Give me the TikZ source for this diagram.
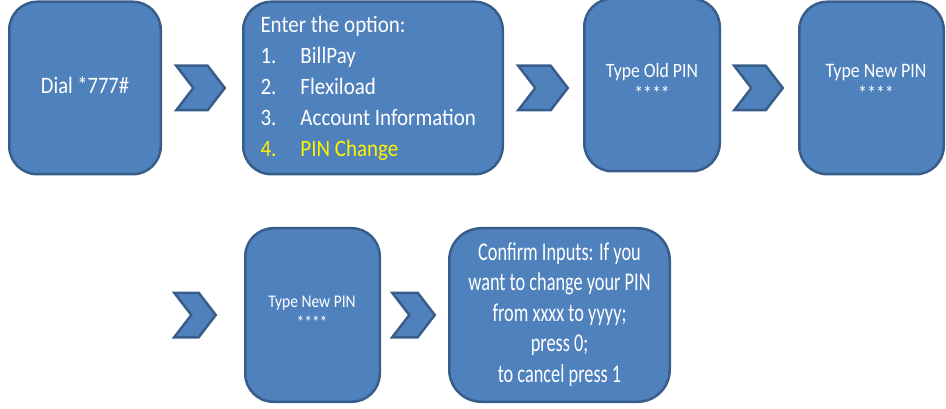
\documentclass[tikz,border=0pt]{standalone}
\usepackage{fontspec}
\setmainfont{Carlito}
\usepackage{tikz}
\usetikzlibrary{shapes.symbols}
\definecolor{boxblue}{RGB}{79,129,189}
\definecolor{boxline}{RGB}{56,93,138}
% the screenshot text is taller than it is wide
\newcommand\tall[2]{\scalebox{1}[#1]{\begin{tabular}{@{}c@{}}#2\end{tabular}}}

\begin{document}
\begin{tikzpicture}[x=1pt,y=-1pt,line width=2.5pt]
	\def \toprow{88}
	\def \botrow{315}

	\tikzstyle{step-box}=[rectangle,rounded corners=28pt,draw=boxline,fill=boxblue,text=white,inner sep=0pt,minimum height=172.5pt]
	\tikzstyle{chev}=[signal,signal from=west,signal to=east,signal pointer angle=105,draw=boxline,fill=boxblue,inner sep=0pt,minimum height=44.5pt]
	\tikzstyle{caption}=[align=center,text=white,inner sep=0pt]

	\useasboundingbox (0,0) rectangle (946,409);

	% first row
	\node[step-box,minimum width=151.5pt,font=\fontsize{20.5}{25}\selectfont] (dial) at (85,\toprow) {\tall{1.15}{Dial *777\#}};
	\node[chev,minimum width=48.5pt] (c1) at (200.5,\toprow) {};
	\node[step-box,minimum width=259.5pt] (option) at (373,\toprow)
		{\scalebox{1}[1.12]{\begin{minipage}{225pt}\fontsize{21}{27.7}\selectfont
		Enter the option:\\
		\makebox[40pt][l]{1.}BillPay\\
		\makebox[40pt][l]{2.}Flexiload\\
		\makebox[40pt][l]{3.}Account Information\\
		\color{yellow}\makebox[40pt][l]{4.}PIN Change
		\end{minipage}}};
	\node[chev,minimum width=49.5pt] (c2) at (543,\toprow) {};
	\node[step-box,minimum width=135.5pt] (old) at (652,\toprow-3) {};
	\node[caption,font=\fontsize{17.7}{20}\selectfont] (oldtxt) at (652,\toprow-4) {\tall{1.15}{Type Old PIN\\{}****}};
	\node[chev,minimum width=48.5pt] (c3) at (758.5,\toprow) {};
	\node[step-box,minimum width=144.5pt] (new1) at (871.5,\toprow) {};
	\node[caption,font=\fontsize{17.9}{20}\selectfont] (new1txt) at (876,\toprow-4) {\tall{1.15}{Type New PIN\\{}****}};

	% second row
	\node[chev,minimum width=41.5pt] (c4) at (195,\botrow) {};
	\node[step-box,minimum width=134.5pt,minimum height=173.5pt] (new2) at (312.5,\botrow) {};
	\node[caption,font=\fontsize{15.5}{18.3}\selectfont] (new2txt) at (312,\botrow-1) {\tall{1.15}{Type New PIN\\{}****}};
	\node[chev,minimum width=42.5pt] (c5) at (413.5,\botrow) {};
	\node[step-box,rounded corners=32pt,minimum width=220.5pt,minimum height=173.5pt,font=\fontsize{18.3}{21.8}\selectfont] (confirm) at (559.5,\botrow)
		{\tall{1.4}{Confirm Inputs: If you\\want to change your PIN\\from xxxx to yyyy;\\press 0;\\to cancel press 1}};
\end{tikzpicture}
\end{document}
